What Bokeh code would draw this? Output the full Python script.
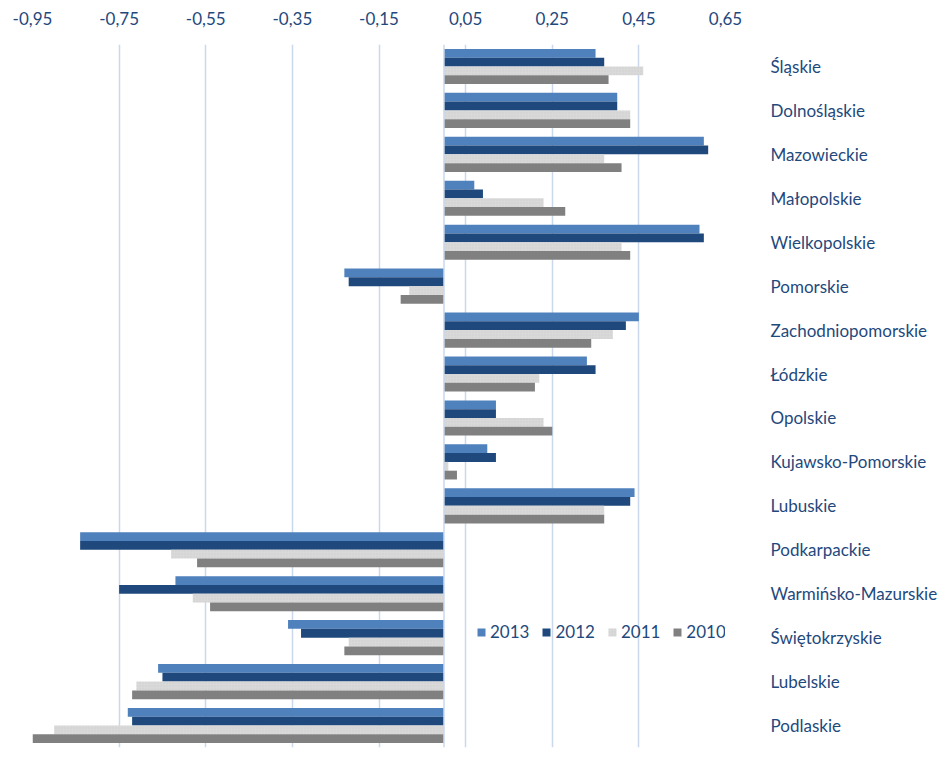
from bokeh.plotting import figure
from bokeh.models import ColumnDataSource, FactorRange, Range1d, FixedTicker, Legend, LegendItem, Span
from bokeh.transform import dodge
from bokeh.embed import file_html
from bokeh.resources import INLINE

categories = ["Śląskie", "Dolnośląskie", "Mazowieckie", "Małopolskie", "Wielkopolskie",
              "Pomorskie", "Zachodniopomorskie", "Łódzkie", "Opolskie", "Kujawsko-Pomorskie",
              "Lubuskie", "Podkarpackie", "Warmińsko-Mazurskie", "Świętokrzyskie",
              "Lubelskie", "Podlaskie"]
v2013 = [0.35, 0.40, 0.60, 0.07, 0.59, -0.23, 0.45, 0.33, 0.12, 0.10, 0.44, -0.84, -0.62, -0.36, -0.66, -0.73]
v2012 = [0.37, 0.40, 0.61, 0.09, 0.60, -0.22, 0.42, 0.35, 0.12, 0.12, 0.43, -0.84, -0.75, -0.33, -0.65, -0.72]
v2011 = [0.46, 0.43, 0.37, 0.23, 0.41, -0.08, 0.39, 0.22, 0.23, 0.01, 0.37, -0.63, -0.58, -0.22, -0.71, -0.90]
v2010 = [0.38, 0.43, 0.41, 0.28, 0.43, -0.10, 0.34, 0.21, 0.25, 0.03, 0.37, -0.57, -0.54, -0.23, -0.72, -0.95]
series_names = ["2013", "2012", "2011", "2010"]
tick_values = [-0.95, -0.75, -0.55, -0.35, -0.15, 0.05, 0.25, 0.45, 0.65]
tick_labels = ["-0,95", "-0,75", "-0,55", "-0,35", "-0,15", "0,05", "0,25", "0,45", "0,65"]

colors = ["#4F81BD", "#1F497D", "#D9D9D9", "#808080"]
text_color = "#1F497D"
grid_color = "#C9D8EC"
font = "Lato"
fsize = "17px"

source = ColumnDataSource(dict(cat=categories, y2013=v2013, y2012=v2012, y2011=v2011, y2010=v2010))

p = figure(width=940, height=760, output_backend="svg", toolbar_location=None,
           y_range=FactorRange(*reversed(categories)), x_range=Range1d(-0.95, 0.65),
           x_axis_location="above", y_axis_location="right",
           min_border_left=32, min_border_top=44, min_border_bottom=13, min_border_right=208)
p.outline_line_color = None
p.background_fill_color = "white"

offsets = [0.3, 0.1, -0.1, -0.3]
cols = ["y2013", "y2012", "y2011", "y2010"]
renderers = []
for col, off, c in zip(cols, offsets, colors):
    kw = {}
    if col == "y2011":
        kw = dict(hatch_pattern="dot", hatch_color="#C4C4C4", hatch_scale=3, hatch_alpha=0.6)
    r = p.hbar(y=dodge("cat", off, range=p.y_range), right=col, left=0, height=0.2,
               source=source, fill_color=c, line_color=None, **kw)
    renderers.append(r)

p.add_layout(Span(location=0, dimension="height", line_color=grid_color, line_width=1.5), "center")

# axes
xa = p.xaxis[0]
xa.ticker = FixedTicker(ticks=tick_values)
xa.major_label_overrides = {t: l for t, l in zip(tick_values, tick_labels)}
xa.axis_line_color = None
xa.major_tick_line_color = None
xa.minor_tick_line_color = None
xa.major_label_text_font = font
xa.major_label_text_font_size = fsize
xa.major_label_text_color = text_color
xa.major_label_standoff = 14

ya = p.yaxis[0]
ya.axis_line_color = None
ya.major_tick_line_color = None
ya.minor_tick_line_color = None
ya.major_label_text_font = font
ya.major_label_text_font_size = fsize
ya.major_label_text_color = text_color
ya.major_label_standoff = 39

p.xgrid.grid_line_color = grid_color
p.xgrid.grid_line_width = 1.5
p.ygrid.grid_line_color = None

legend = Legend(items=[LegendItem(label=n, renderers=[r]) for n, r in zip(series_names, renderers)],
                orientation="horizontal", location=(444, 105))
legend.background_fill_alpha = 0
legend.border_line_color = None
legend.padding = 0
legend.margin = 0
legend.spacing = 12
legend.glyph_width = 10
legend.glyph_height = 10
legend.label_standoff = 4
legend.label_text_font = font
legend.label_text_font_size = fsize
legend.label_text_color = text_color
p.add_layout(legend, "center")

open("out.html", "w").write(file_html(p, INLINE))
